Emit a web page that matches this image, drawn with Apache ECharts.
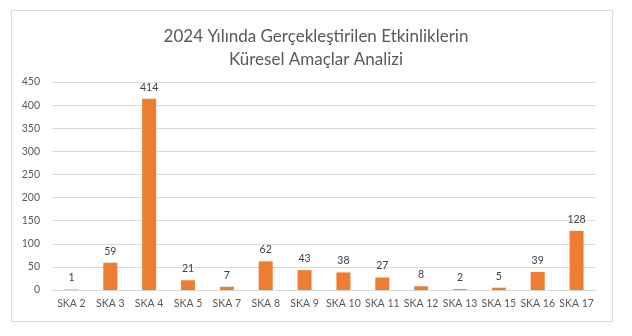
<!DOCTYPE html>
<html><head><meta charset="utf-8">
<script src="https://cdn.jsdelivr.net/npm/echarts@6/dist/echarts.min.js"></script>
<style>html,body{margin:0;padding:0;background:#fff}#c{width:632px;height:336px}</style>
</head><body><div id="c"></div>
<script>
const titleLines = ["2024 Yılında Gerçekleştirilen Etkinliklerin", "Küresel Amaçlar Analizi"];
const categories = ["SKA 2","SKA 3","SKA 4","SKA 5","SKA 7","SKA 8","SKA 9","SKA 10","SKA 11","SKA 12","SKA 13","SKA 15","SKA 16","SKA 17"];
const values = [1,59,414,21,7,62,43,38,27,8,2,5,39,128];
const yMin = 0, yMax = 450, yStep = 50;

const FONT = "Lato";
const chart = echarts.init(document.getElementById('c'), null, {renderer:'canvas'});
chart.setOption({
  animation:false,
  textStyle:{fontFamily:FONT},
  graphic:[{type:'rect', shape:{x:11.5,y:10.5,width:601,height:311}, style:{fill:'none', stroke:'#D9D9D9', lineWidth:1}, silent:true, z:-1}],
  title:{text:titleLines.join('\n'), left:'center', top:20, textStyle:{fontFamily:FONT, fontSize:17, fontWeight:'normal', color:'#595959', lineHeight:23}},
  grid:{left:52, right:36, top:82, bottom:46, containLabel:false},
  xAxis:{type:'category', data:categories, axisTick:{show:false}, axisLine:{lineStyle:{color:'#D9D9D9'}},
    axisLabel:{color:'#595959', fontSize:10.5, margin:8, interval:0}},
  yAxis:{type:'value', min:yMin, max:yMax, interval:yStep, axisLine:{show:false}, axisTick:{show:false},
    splitLine:{lineStyle:{color:'#D9D9D9'}}, axisLabel:{color:'#595959', fontSize:10.5, margin:12}},
  series:[{type:'bar', data:values, barWidth:14, itemStyle:{color:'#ED7D31'},
    label:{show:true, position:'top', distance:6, color:'#404040', fontSize:10.5}}]
});
</script></body></html>
